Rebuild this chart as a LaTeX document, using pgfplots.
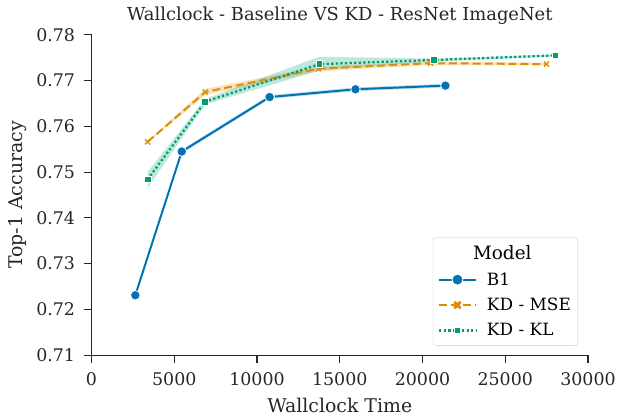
\documentclass[border=0pt]{standalone}
\usepackage{pgfplots}
\pgfplotsset{compat=1.18}
\usepgfplotslibrary{fillbetween}
\usepackage{fontspec}
\setmainfont{DejaVu Serif}

\definecolor{cbblue}{HTML}{0173B2}
\definecolor{cborange}{HTML}{DE8F05}
\definecolor{cbgreen}{HTML}{029E73}
\definecolor{spine}{HTML}{262626}

\begin{document}
\begin{tikzpicture}
\begin{axis}[
    name=main,
    scale only axis,
    width=499pt, height=322pt,
    xmin=0, xmax=30000,
    ymin=0.71, ymax=0.78,
    axis x line*=bottom, axis y line*=left,
    axis line style={spine, line width=1.2pt, -},
    tick align=outside,
    major tick length=8pt,
    tick style={spine, line width=1.2pt},
    xtick={0,5000,...,30000},
    ytick={0.71,0.72,...,0.781},
    scaled x ticks=false,
    /pgf/number format/assume math mode=true,
    xticklabel style={/pgf/number format/set thousands separator={}, font=\fontsize{17.5}{20}\selectfont, text=spine, yshift=-6pt},
    yticklabel style={/pgf/number format/fixed, /pgf/number format/precision=2, /pgf/number format/fixed zerofill, font=\fontsize{17.5}{20}\selectfont, text=spine, xshift=-5pt},
    xlabel={Wallclock Time},
    ylabel={Top-1 Accuracy},
    label style={font=\fontsize{19}{22}\selectfont, text=spine},
    xlabel style={yshift=-6pt},
    ylabel style={yshift=3pt},
    title={Wallclock - Baseline VS KD - ResNet ImageNet},
    title style={font=\fontsize{18}{21}\selectfont, text=spine, yshift=1pt},
    legend cell align=left,
    legend style={font=\fontsize{17}{20}\selectfont, draw=black!20, rounded corners=3pt,
        at={(0.98,0.03)}, anchor=south east, inner xsep=5pt, inner ysep=6pt, row sep=7.5pt,
        /tikz/every odd column/.append style={column sep=8pt}},
    legend image code/.code={\draw[mark repeat=2, mark phase=2, #1] plot coordinates {(0pt,0pt) (18.5pt,0pt) (37pt,0pt)};},
]
% confidence bands
\addplot[name path=b1u, draw=none, forget plot] coordinates {(2645,0.7234) (5453,0.7549) (10762,0.7668) (15950,0.7685) (21385,0.7693)};
\addplot[name path=b1l, draw=none, forget plot] coordinates {(2645,0.7228) (5453,0.7541) (10762,0.7660) (15950,0.7677) (21385,0.7685)};
\addplot[cbblue, fill opacity=0.25, forget plot] fill between[of=b1u and b1l];

\addplot[name path=mseu, draw=none, forget plot] coordinates {(3385,0.7568) (6872,0.7682) (13708,0.7731) (20483,0.7742) (27494,0.7739)};
\addplot[name path=msel, draw=none, forget plot] coordinates {(3385,0.7564) (6872,0.7668) (13708,0.7720) (20483,0.7734) (27494,0.7733)};
\addplot[cborange, fill opacity=0.25, forget plot] fill between[of=mseu and msel];

\addplot[name path=klu, draw=none, forget plot] coordinates {(3385,0.7500) (6872,0.7660) (13768,0.7752) (20700,0.7748) (28035,0.7757)};
\addplot[name path=kll, draw=none, forget plot] coordinates {(3385,0.7465) (6872,0.7648) (13768,0.7722) (20700,0.7742) (28035,0.7753)};
\addplot[cbgreen, fill opacity=0.25, forget plot] fill between[of=klu and kll];

% lines
\addplot[cbblue, line width=2pt, mark=*, mark size=4.8pt, mark options={draw=white, line width=0.8pt, fill=cbblue}, forget plot]
    coordinates {(2645,0.7231) (5453,0.7545) (10762,0.7664) (15950,0.7681) (21385,0.7689)};
\addplot[cborange, line width=2pt, dash pattern=on 8pt off 4pt, mark=x, mark size=3.6pt, mark options={solid, line width=1.4pt}, forget plot]
    coordinates {(3385,0.7566) (6872,0.7675) (13708,0.7726) (20483,0.7738) (27494,0.7736)};
\addplot[cbgreen, line width=2.3pt, dash pattern=on 2.3pt off 2.3pt, mark=square*, mark size=3.4pt, mark options={solid, draw=white, line width=0.8pt, fill=cbgreen}, forget plot]
    coordinates {(3385,0.7484) (6872,0.7654) (13768,0.7736) (20700,0.7745) (28035,0.7755)};

% legend
\addlegendimage{empty legend}
\addlegendentry{\hspace{-14pt}\fontsize{18.5}{21}\selectfont Model}
\addlegendimage{cbblue, line width=2pt, mark=*, mark size=5.5pt, mark options={draw=white, line width=0.8pt, fill=cbblue}}
\addlegendentry{B1}
\addlegendimage{cborange, line width=2pt, dash pattern=on 8pt off 4pt, mark=x, mark size=4.4pt, mark options={solid, line width=3pt}}
\addlegendentry{KD - MSE}
\addlegendimage{cbgreen, line width=2.3pt, dash pattern=on 2.3pt off 2.3pt, mark=square*, mark size=3.4pt, mark options={solid, draw=white, line width=0.8pt, fill=cbgreen}}
\addlegendentry{KD - KL}
\end{axis}
\path ([shift={(-92pt,-61pt)}]main.south west) rectangle ([shift={(28pt,35pt)}]main.north east);
\end{tikzpicture}
\end{document}
